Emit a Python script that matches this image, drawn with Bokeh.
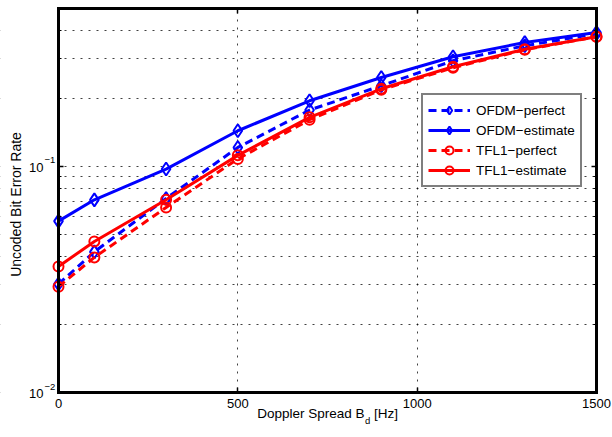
import math
from bokeh.plotting import figure
from bokeh.models import (Range1d, FixedTicker, LogAxis, LinearAxis, Label, Legend,
                          LegendItem, CustomJSTickFormatter, BoxAnnotation)
from bokeh.embed import file_html
from bokeh.resources import INLINE

# ---- data ----
doppler_hz = [0, 100, 300, 500, 700, 900, 1100, 1300, 1500]
ofdm_perfect = [0.0302, 0.0419, 0.0722, 0.1214, 0.1777, 0.2276, 0.2936, 0.3420, 0.3866]
ofdm_estimate = [0.0573, 0.0712, 0.0974, 0.1439, 0.1953, 0.2475, 0.3058, 0.3537, 0.3917]
tfl1_perfect = [0.0294, 0.0396, 0.0659, 0.1080, 0.1610, 0.2185, 0.2734, 0.3284, 0.3750]
tfl1_estimate = [0.0361, 0.0466, 0.0712, 0.1120, 0.1650, 0.2207, 0.2763, 0.3300, 0.3750]

series_labels = ["OFDM\u2212perfect", "OFDM\u2212estimate", "TFL1\u2212perfect", "TFL1\u2212estimate"]
x_ticks = [0, 500, 1000, 1500]
y_major_ticks = [0.01, 0.1]
y_minor_ticks = [0.02, 0.03, 0.04, 0.05, 0.06, 0.07, 0.08, 0.09, 0.2, 0.3, 0.4]
x_range = (0, 1500)
y_range = (0.01, 0.5)
x_label_parts = ("Doppler Spread B", "d", "[Hz]")
y_label = "Uncoded Bit Error Rate"

FONT = "Liberation Sans"
BLUE = "#0000ff"
RED = "#ff0000"

# ---- layout: the frame fills the figure; the axes box sits inside it ----
W, H = 612, 437
BOX_L, BOX_R, BOX_T, BOX_B = 58, 596, 8, 392
xpp = (x_range[1] - x_range[0]) / (BOX_R - BOX_L)
fx0 = x_range[0] - BOX_L * xpp
fx1 = x_range[1] + (W - BOX_R) * xpp
ly0, ly1 = math.log10(y_range[0]), math.log10(y_range[1])
ypp = (ly1 - ly0) / (BOX_B - BOX_T)
fy0 = 10 ** (ly0 - (H - BOX_B) * ypp)
fy1 = 10 ** (ly1 + BOX_T * ypp)

p = figure(width=W, height=H, output_backend="svg", toolbar_location=None,
           x_range=Range1d(fx0, fx1), y_range=Range1d(fy0, fy1), y_axis_type="log",
           min_border_left=0, min_border_right=0, min_border_top=0, min_border_bottom=0,
           background_fill_color="white", border_fill_color="white")
p.outline_line_color = None
p.title.visible = False

def empty_fmt():
    return CustomJSTickFormatter(code="return ''")

# grids (MATLAB dotted)
for g in (p.xgrid[0], p.ygrid[0]):
    g.grid_line_color = "black"
    g.grid_line_dash = "2 6"
    g.grid_line_alpha = 0.75
p.xgrid[0].bounds = x_range
p.ygrid[0].bounds = y_range
p.ygrid[0].minor_grid_line_color = "black"
p.ygrid[0].minor_grid_line_dash = "2 6"
p.ygrid[0].minor_grid_line_alpha = 0.75

# white masks outside the axes box (hide grid overshoot)
for kw in (dict(right=x_range[0]), dict(left=x_range[1]), dict(top=y_range[0]), dict(bottom=y_range[1])):
    p.add_layout(BoxAnnotation(fill_color="white", fill_alpha=1.0, line_color=None,
                               level="underlay", **kw))

# bottom axis
xa = p.xaxis[0]
xa.fixed_location = y_range[0]
xa.bounds = x_range
xa.ticker = FixedTicker(ticks=x_ticks, minor_ticks=[])
xa.axis_line_width = 3
xa.axis_line_cap = "square"
xa.major_tick_in = 5
xa.major_tick_out = 0
xa.major_tick_line_width = 1.5
xa.minor_tick_line_color = None
xa.major_label_text_font = FONT
xa.major_label_text_font_size = "13px"
xa.major_label_text_color = "black"
xa.major_label_standoff = 6

# left axis
ya = p.yaxis[0]
ya.fixed_location = x_range[0]
ya.bounds = y_range
ya.ticker = FixedTicker(ticks=y_major_ticks, minor_ticks=y_minor_ticks)
ya.formatter = empty_fmt()
ya.axis_line_width = 3
ya.axis_line_cap = "square"
ya.major_tick_in = 5
ya.major_tick_out = 0
ya.minor_tick_in = 3
ya.minor_tick_out = 0
ya.major_tick_line_width = 1.5
ya.minor_tick_line_width = 1

# box sides with inward ticks
top_ax = LinearAxis(fixed_location=y_range[1], bounds=x_range,
                    ticker=FixedTicker(ticks=x_ticks, minor_ticks=[]), formatter=empty_fmt(),
                    major_tick_in=5, major_tick_out=0, minor_tick_line_color=None,
                    major_tick_line_width=1.5, axis_line_width=3, axis_line_cap="square",
                    major_label_standoff=0)
right_ax = LogAxis(fixed_location=x_range[1], bounds=y_range,
                   ticker=FixedTicker(ticks=y_major_ticks, minor_ticks=y_minor_ticks),
                   formatter=empty_fmt(),
                   major_tick_in=5, major_tick_out=0, minor_tick_in=3, minor_tick_out=0,
                   major_tick_line_width=1.5, axis_line_width=3, axis_line_cap="square",
                   major_label_standoff=0)
p.add_layout(top_ax, "above")
p.add_layout(right_ax, "right")

# series
def add_series(ys, color, dash, marker, msize):
    lr = p.line(doppler_hz, ys, line_color=color, line_width=3, line_dash=dash)
    sr = p.scatter(doppler_hz, ys, marker=marker, size=msize, line_color=color,
                   fill_color=None, line_width=2)
    return [lr, sr]

r_op = add_series(ofdm_perfect, BLUE, "8 5", "diamond", 13)
r_oe = add_series(ofdm_estimate, BLUE, "solid", "diamond", 13)
r_tp = add_series(tfl1_perfect, RED, "8 5", "circle", 10)
r_te = add_series(tfl1_estimate, RED, "solid", "circle", 10)

legend = Legend(items=[LegendItem(label=series_labels[0], renderers=r_op),
                       LegendItem(label=series_labels[1], renderers=r_oe),
                       LegendItem(label=series_labels[2], renderers=r_tp),
                       LegendItem(label=series_labels[3], renderers=r_te)],
                location=(421, 250), margin=0, padding=5, spacing=0,
                label_height=20, glyph_height=20, glyph_width=42, label_standoff=6,
                label_text_font=FONT, label_text_font_size="13.5px", label_text_color="black",
                border_line_color="black", border_line_width=2, background_fill_color="white",
                background_fill_alpha=1.0)
p.add_layout(legend)

# y tick labels as 10^n
for v in y_major_ticks:
    e = int(round(math.log10(v)))
    p.add_layout(Label(x=x_range[0], y=v, text="10", text_align="right", text_baseline="middle",
                       x_offset=-15, y_offset=-1, text_font=FONT, text_font_size="13px",
                       text_color="black"))
    p.add_layout(Label(x=x_range[0], y=v, text=("\u2212%d" % abs(e)) if e < 0 else str(e),
                       text_align="left", text_baseline="middle", x_offset=-14, y_offset=6,
                       text_font=FONT, text_font_size="9.5px", text_color="black"))

# x axis label with subscript
xc = (x_range[0] + x_range[1]) / 2
p.add_layout(Label(x=xc, y=y_range[0], text=x_label_parts[0], text_align="right", text_baseline="middle",
                   x_offset=37, y_offset=-21, text_font=FONT, text_font_size="13.5px", text_color="black"))
p.add_layout(Label(x=xc, y=y_range[0], text=x_label_parts[1], text_align="left", text_baseline="middle",
                   x_offset=37.5, y_offset=-28, text_font=FONT, text_font_size="9.5px", text_color="black"))
p.add_layout(Label(x=xc, y=y_range[0], text=x_label_parts[2], text_align="left", text_baseline="middle",
                   x_offset=46.5, y_offset=-21, text_font=FONT, text_font_size="13.5px", text_color="black"))

# y axis label
yc = math.sqrt(y_range[0] * y_range[1])
p.add_layout(Label(x=x_range[0], y=yc, text=y_label, angle=math.pi / 2, text_align="center",
                   text_baseline="middle", x_offset=-43, y_offset=-4, text_font=FONT,
                   text_font_size="14px", text_color="black"))

open("out.html", "w").write(file_html(p, INLINE))
